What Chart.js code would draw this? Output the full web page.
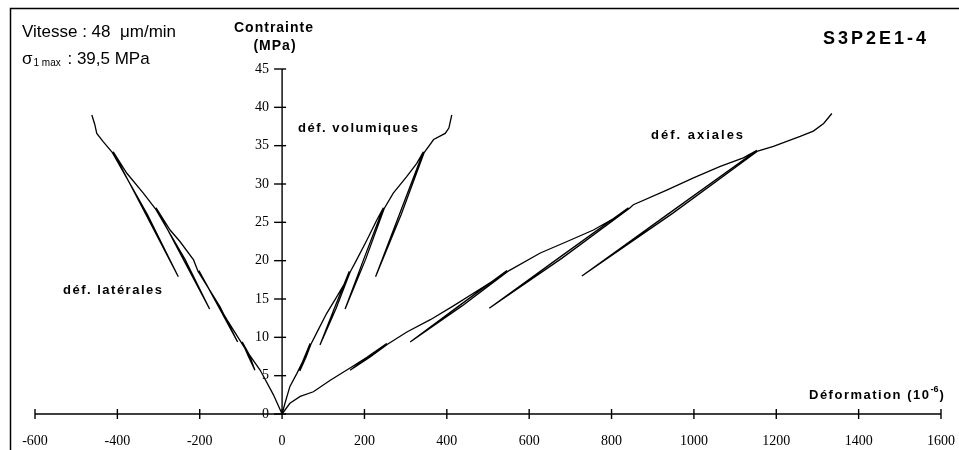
<!DOCTYPE html>
<html><head><meta charset="utf-8">
<script src="https://cdn.jsdelivr.net/npm/chart.js@4/dist/chart.umd.min.js"></script>
<style>html,body{margin:0;padding:0;background:#fff}#wrap{width:959px;height:450px;position:relative}</style>
</head><body><div id="wrap"><canvas id="c" width="959" height="450"></canvas></div>
<script>
const xTicks = [-600,-400,-200,0,200,400,600,800,1000,1200,1400,1600];
const yTicks = [0,5,10,15,20,25,30,35,40,45];

// déf. axiales (loading path with unload/reload loops)
const axialX = [0,19,44,76,117,165,206,254, 209,165, 213,256, 303,360,416,481,522,546, 432,311, 437,548, 627,692,756,805,841, 673,503, 679,843, 853,934,999,1064,1120,1153, 943,728, 949,1155, 1193,1258,1290,1315,1335];
const axialY = [0,1.4,2.3,2.9,4.4,6.0,7.4,9.2, 7.45,5.7, 7.4,9.1, 10.7,12.3,14.1,16.3,17.7,18.7, 14.2,9.4, 14.1,18.6, 21.0,22.5,24.0,25.5,26.9, 20.4,13.8, 20.3,26.8, 27.3,29.2,30.8,32.3,33.4,34.4, 26.3,18.0, 26.2,34.3, 34.9,36.2,36.9,37.9,39.2];

// déf. latérales
const lateralX = [0,-21,-53,-78,-97, -82,-66, -78,-99, -134,-167,-199,-202, -155,-108, -151,-204, -215,-248,-272,-306, -241,-176, -236,-308, -337,-377,-410, -331,-252, -327,-412, -434,-450,-455,-462];
const lateralY = [0,2.5,5.7,7.6,9.4, 7.55,5.7, 7.5,9.3, 12.3,15.3,18.4,18.7, 14.05,9.4, 14.0,18.6, 20.1,22.5,24.0,26.9, 20.3,13.7, 20.2,26.8, 28.8,31.4,34.2, 26.05,17.9, 26.0,34.1, 35.5,36.6,37.8,39.0];

// déf. volumiques
const volX = [0,7,19,36,48,68, 55,43, 58,70, 88,108,133,157,163, 127,92, 131,165, 181,206,230,246, 199,153, 203,248, 270,303,327,343, 285,227, 289,345, 368,396,405,412];
const volY = [0,1.4,3.6,5.3,6.6,9.2, 7.4,5.6, 7.4,9.1, 11.0,13.1,15.3,17.5,18.6, 13.8,9.0, 13.75,18.5, 20.1,22.7,25.3,26.9, 20.3,13.7, 20.2,26.8, 28.8,31.0,32.7,34.2, 26.05,17.9, 26.0,34.1, 35.8,36.6,37.3,39.0];

const toPts = (xs, ys) => xs.map((x, i) => ({x: x, y: ys[i]}));

const SANS = '"Liberation Sans", Arial, sans-serif';
const SERIF = '"Liberation Serif", "Times New Roman", serif';

const decor = {
  id: 'decor',
  beforeDatasetsDraw(chart) {
    const ctx = chart.ctx, xs = chart.scales.x, ys = chart.scales.y;
    const x0 = xs.getPixelForValue(0), y0 = ys.getPixelForValue(0);
    ctx.save();
    ctx.strokeStyle = '#000'; ctx.fillStyle = '#000';
    // frame (top and left)
    ctx.lineWidth = 1.5;
    ctx.beginPath(); ctx.moveTo(10.5, 450); ctx.lineTo(10.5, 8.5); ctx.lineTo(959, 8.5); ctx.stroke();
    // x axis
    ctx.lineWidth = 1.4;
    ctx.beginPath();
    ctx.moveTo(xs.getPixelForValue(xs.min), y0); ctx.lineTo(xs.getPixelForValue(xs.max), y0);
    ctx.stroke();
    ctx.font = '14px ' + SERIF; ctx.textAlign = 'center'; ctx.textBaseline = 'middle';
    xs.ticks.forEach(t => {
      const px = xs.getPixelForValue(t.value);
      ctx.beginPath(); ctx.moveTo(px, y0 - 5); ctx.lineTo(px, y0 + 5); ctx.stroke();
      ctx.fillText(String(t.value), px, 441);
    });
    // y axis
    ctx.beginPath();
    ctx.moveTo(x0, ys.getPixelForValue(ys.min)); ctx.lineTo(x0, ys.getPixelForValue(ys.max));
    ctx.stroke();
    ctx.textAlign = 'right';
    ys.ticks.forEach(t => {
      const py = ys.getPixelForValue(t.value);
      ctx.beginPath(); ctx.moveTo(x0 - 8, py); ctx.lineTo(x0 + 4, py); ctx.stroke();
      ctx.fillText(String(t.value), x0 - 13, py);
    });
    ctx.restore();
  },
  afterDraw(chart) {
    const ctx = chart.ctx;
    ctx.save();
    ctx.fillStyle = '#000';
    ctx.textBaseline = 'alphabetic'; ctx.textAlign = 'left';
    // speed
    ctx.font = '17px ' + SANS;
    ctx.fillText('Vitesse : 48  μm/min', 22, 37);
    // sigma max
    let x = 22;
    ctx.font = '17px ' + SANS;
    ctx.fillText('σ', x, 64); x += ctx.measureText('σ').width + 1;
    ctx.font = '10px ' + SANS;
    ctx.fillText('1 max', x, 66); x += ctx.measureText('1 max').width + 2;
    ctx.font = '17px ' + SANS;
    ctx.fillText(' : 39,5 MPa', x, 64);
    // y axis title
    ctx.font = 'bold 14px ' + SANS; ctx.textAlign = 'center'; ctx.textBaseline = 'middle';
    ctx.letterSpacing = '1px';
    ctx.fillText('Contrainte', 274, 28);
    ctx.fillText('(MPa)', 275, 46);
    // specimen id
    ctx.font = 'bold 18px ' + SANS; ctx.textAlign = 'left';
    ctx.letterSpacing = '3px';
    ctx.fillText('S3P2E1-4', 823, 39);
    // curve labels
    ctx.font = 'bold 13px ' + SANS;
    ctx.letterSpacing = '1.5px';
    ctx.fillText('déf. volumiques', 298, 128);
    ctx.fillText('déf. latérales', 63, 290);
    ctx.letterSpacing = '2px';
    ctx.fillText('déf. axiales', 651, 135);
    // x axis title
    ctx.letterSpacing = '1.5px';
    let tx = 809;
    ctx.fillText('Déformation (10', tx, 395); tx += ctx.measureText('Déformation (10').width;
    ctx.font = 'bold 9px ' + SANS; ctx.letterSpacing = '0px';
    ctx.fillText('-6', tx, 390); tx += ctx.measureText('-6').width + 1;
    ctx.font = 'bold 13px ' + SANS;
    ctx.fillText(')', tx, 395);
    ctx.restore();
  }
};

const lineStyle = {borderColor: '#000', backgroundColor: '#000', borderWidth: 1.3, pointRadius: 0, showLine: true, fill: false, tension: 0};

new Chart(document.getElementById('c'), {
  type: 'scatter',
  data: {
    datasets: [
      Object.assign({label: 'déf. axiales', data: toPts(axialX, axialY)}, lineStyle),
      Object.assign({label: 'déf. latérales', data: toPts(lateralX, lateralY)}, lineStyle),
      Object.assign({label: 'déf. volumiques', data: toPts(volX, volY)}, lineStyle)
    ]
  },
  options: {
    responsive: false,
    animation: false,
    layout: {padding: {left: 35, right: 18, top: 69, bottom: 36}},
    plugins: {legend: {display: false}, tooltip: {enabled: false}},
    scales: {
      x: {type: 'linear', min: xTicks[0], max: xTicks[xTicks.length - 1], display: false,
          afterBuildTicks: s => { s.ticks = xTicks.map(v => ({value: v})); }},
      y: {type: 'linear', min: yTicks[0], max: yTicks[yTicks.length - 1], display: false,
          afterBuildTicks: s => { s.ticks = yTicks.map(v => ({value: v})); }}
    }
  },
  plugins: [decor]
});
</script>
</body></html>
